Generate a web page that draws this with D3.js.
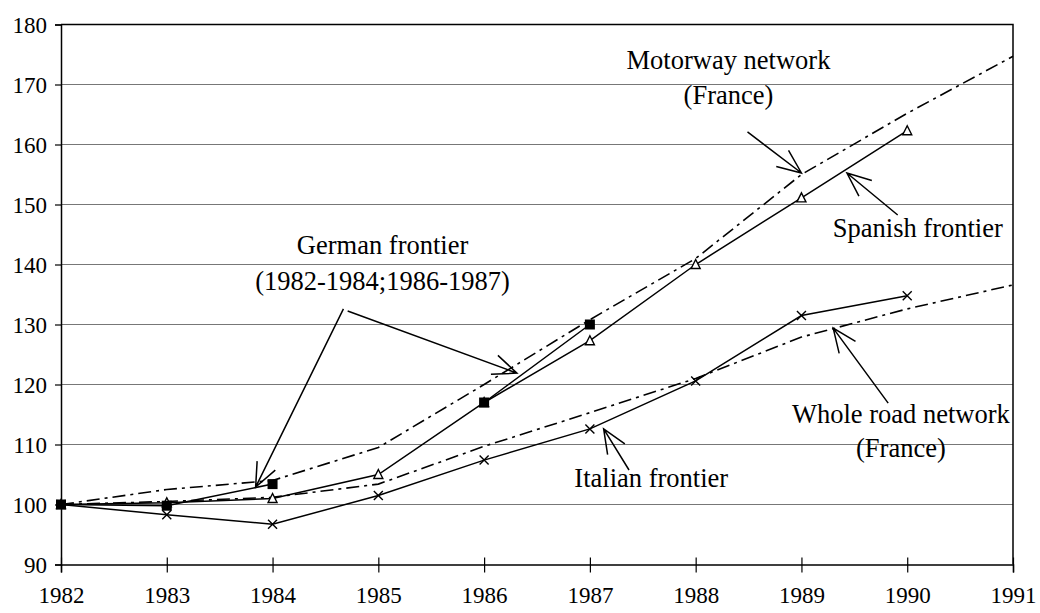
<!DOCTYPE html>
<html>
<head>
<meta charset="utf-8">
<script src="https://cdn.jsdelivr.net/npm/d3@7"></script>
<style>
  body { margin: 0; background: #fff; }
  text { font-family: "Liberation Serif", "Times New Roman", serif; fill: #000; }
</style>
</head>
<body>
<div id="chart"></div>
<script>
// index values, 1982 = 100
const years = [1982, 1983, 1984, 1985, 1986, 1987, 1988, 1989, 1990, 1991];
const yTicks = [90, 100, 110, 120, 130, 140, 150, 160, 170, 180];

const motorway = [100, 102.5, 104, 109.5, 120, 130.8, 141, 155, 165.2, 174.7];
const wholeRoad = [100, 100.5, 101.2, 103.4, 109.7, 115.3, 121, 127.9, 132.6, 136.6];
const spanish = [100, 100.3, 101, 105, 117, 127.3, 140, 151.1, 162.3, null];
const italian = [100, 98.3, 96.7, 101.5, 107.4, 112.6, 120.6, 131.5, 134.8, null];
const german = [100, 99.8, 103.4, null, 117, 130, null, null, null, null];

// label text + arrows, in data units
const labels = [
  {lines: ["Motorway network", "(France)"], x: 1988.31, y: [172.6, 166.75]},
  {lines: ["Spanish frontier"], x: 1990.10, y: [144.6]},
  {lines: ["German frontier", "(1982-1984;1986-1987)"], x: 1985.04, y: [141.75, 135.75]},
  {lines: ["Italian frontier"], x: 1987.58, y: [102.9]},
  {lines: ["Whole road network", "(France)"], x: 1989.94, y: [113.6, 107.9]}
];
const arrows = [
  {from: [1988.49, 162.1], to: [1989.0, 155.25]},
  {from: [1989.91, 148.25], to: [1989.43, 155.25]},
  {from: [1984.67, 132.6], to: [1983.84, 102.9]},
  {from: [1984.71, 132.25], to: [1986.31, 121.9]},
  {from: [1987.37, 105.75], to: [1987.13, 112.6]},
  {from: [1989.82, 116.9], to: [1989.30, 129.4]}
];

const width = 1040, height = 613;
const svg = d3.select("#chart").append("svg")
  .attr("width", width).attr("height", height);

const x = d3.scaleLinear().domain([1982, 1991]).range([61, 1013]);
const y = d3.scaleLinear().domain([90, 180]).range([564.5, 24.5]);

// gridlines
svg.append("g").selectAll("line").data(yTicks.slice(1, -1)).join("line")
  .attr("x1", x(1982)).attr("x2", x(1991))
  .attr("y1", d => y(d)).attr("y2", d => y(d))
  .attr("stroke", "#777").attr("stroke-width", 1.2);

// frame: top + right border
svg.append("path")
  .attr("d", `M${x(1982)},${y(180)}H${x(1991)}V${y(90)}`)
  .attr("fill", "none").attr("stroke", "#000").attr("stroke-width", 1.5);

// y axis
const yAxis = svg.append("g").attr("transform", `translate(${x(1982)},0)`)
  .call(d3.axisLeft(y).tickValues(yTicks).tickSize(6).tickPadding(8));
// x axis, ticks cross the line
const xAxis = svg.append("g").attr("transform", `translate(0,${y(90)})`)
  .call(d3.axisBottom(x).tickValues(years).tickFormat(d3.format("d")).tickSize(8).tickPadding(26));
xAxis.selectAll(".tick line").attr("y1", -7);
[yAxis, xAxis].forEach(a => {
  a.select(".domain").attr("stroke", "#000").attr("stroke-width", 1.5);
  a.selectAll(".tick line").attr("stroke", "#000").attr("stroke-width", 1.2);
  a.selectAll("text").style("font-size", "23px").style("font-family", "'Liberation Serif', serif").attr("fill", "#000");
});
yAxis.selectAll("text").attr("dy", "0.33em");
xAxis.selectAll("text").attr("dy", "0.2em");

const line = d3.line().defined(d => d[1] != null)
  .x(d => x(d[0])).y(d => y(d[1]));
const pts = arr => years.map((yr, i) => [yr, arr[i]]);
const dashDot = "13,5,3,5";

svg.append("path").attr("d", line(pts(wholeRoad)))
  .attr("fill", "none").attr("stroke", "#000").attr("stroke-width", 1.6).attr("stroke-dasharray", dashDot);
svg.append("path").attr("d", line(pts(motorway)))
  .attr("fill", "none").attr("stroke", "#000").attr("stroke-width", 1.6).attr("stroke-dasharray", dashDot);
[italian, spanish, german].forEach(s => {
  svg.append("path").attr("d", line(pts(s)))
    .attr("fill", "none").attr("stroke", "#000").attr("stroke-width", 1.5);
});

// markers
const valid = arr => pts(arr).filter(d => d[1] != null);
svg.append("g").selectAll("path").data(valid(italian)).join("path")
  .attr("d", d => {
    const cx = x(d[0]), cy = y(d[1]), r = 4.5;
    return `M${cx - r},${cy - r}L${cx + r},${cy + r}M${cx - r},${cy + r}L${cx + r},${cy - r}`;
  })
  .attr("stroke", "#000").attr("stroke-width", 1.4);
svg.append("g").selectAll("path").data(valid(spanish)).join("path")
  .attr("d", d => {
    const cx = x(d[0]), cy = y(d[1]);
    return `M${cx},${cy - 5}L${cx + 4.5},${cy + 4}L${cx - 4.5},${cy + 4}Z`;
  })
  .attr("fill", "#fff").attr("stroke", "#000").attr("stroke-width", 1.4);
svg.append("g").selectAll("rect").data(valid(german)).join("rect")
  .attr("x", d => x(d[0]) - 5).attr("y", d => y(d[1]) - 5)
  .attr("width", 10).attr("height", 10).attr("fill", "#000");

// annotations
const ann = svg.append("g");
labels.forEach(l => {
  l.lines.forEach((t, i) => {
    ann.append("text").attr("x", x(l.x)).attr("y", y(l.y[i]))
      .attr("text-anchor", "middle").style("font-size", "26.5px").text(t);
  });
});
arrows.forEach(a => {
  const x0 = x(a.from[0]), y0 = y(a.from[1]), x1 = x(a.to[0]), y1 = y(a.to[1]);
  const ang = Math.atan2(y0 - y1, x0 - x1), len = 26, spread = 0.4;
  const b1 = [x1 + len * Math.cos(ang + spread), y1 + len * Math.sin(ang + spread)];
  const b2 = [x1 + len * Math.cos(ang - spread), y1 + len * Math.sin(ang - spread)];
  ann.append("path")
    .attr("d", `M${x0},${y0}L${x1},${y1}M${b1[0]},${b1[1]}L${x1},${y1}L${b2[0]},${b2[1]}`)
    .attr("fill", "none").attr("stroke", "#000").attr("stroke-width", 1.5);
});
</script>
</body>
</html>
